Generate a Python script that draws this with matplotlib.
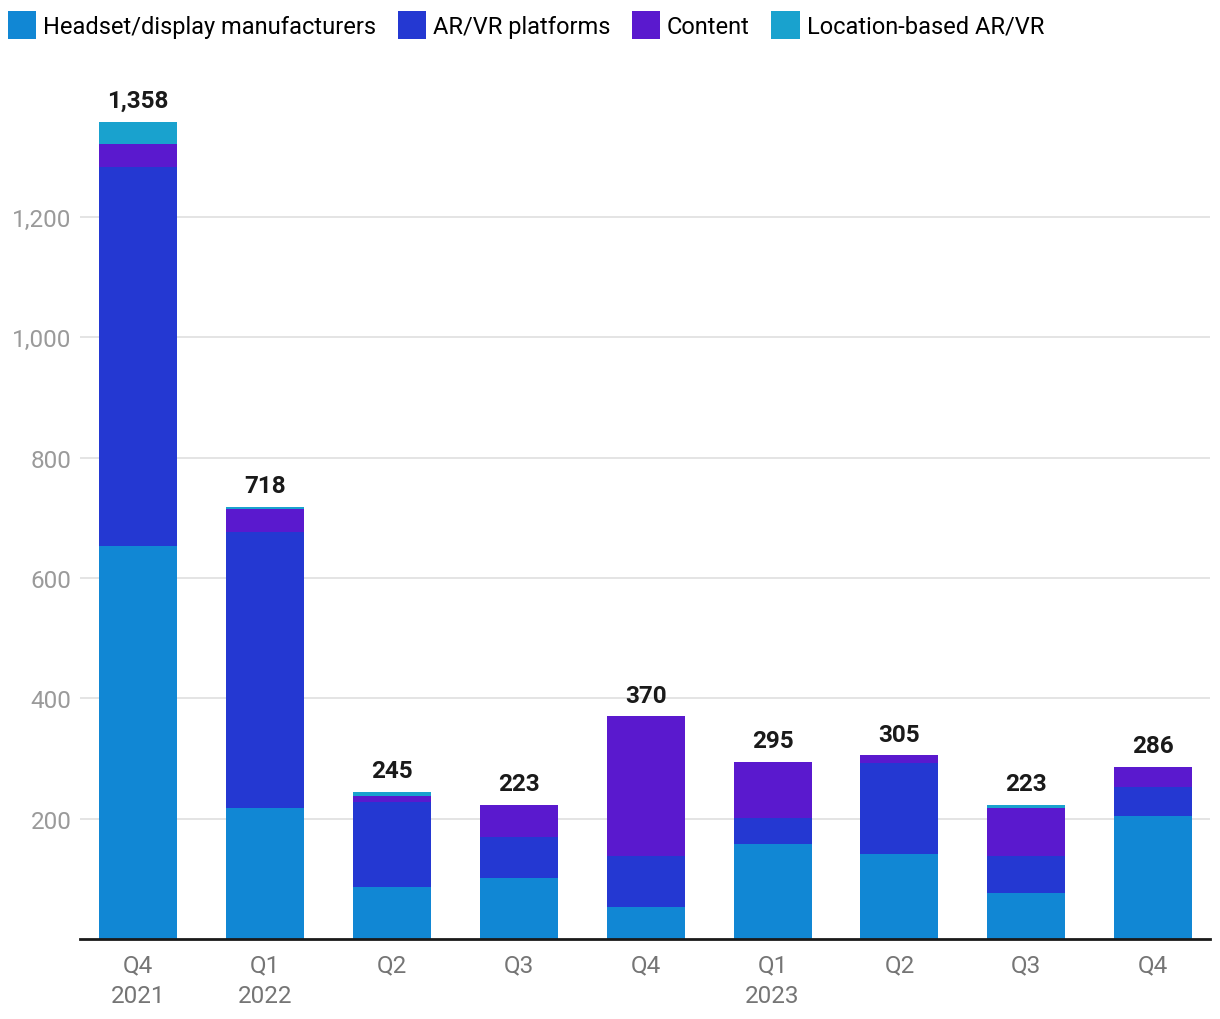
import numpy as np
import matplotlib.pyplot as plt
from matplotlib.patches import Patch

plt.rcParams['font.family'] = ['Roboto', 'DejaVu Sans']

# quarters and funding by segment
quarters = ["Q4\n2021", "Q1\n2022", "Q2", "Q3", "Q4", "Q1\n2023", "Q2", "Q3", "Q4"]
headset = [653, 218, 87, 102, 53, 158, 141, 76, 204]
platforms = [630, 458, 140, 68, 85, 43, 152, 62, 49]
content = [38, 39, 11, 53, 232, 93, 12, 80, 33]
location = [37, 3, 7, 0, 0, 1, 0, 5, 0]
totals = [1358, 718, 245, 223, 370, 295, 305, 223, 286]

series_names = ["Headset/display manufacturers", "AR/VR platforms", "Content", "Location-based AR/VR"]
colors = ["#1187d4", "#2438d2", "#5a19ce", "#19a2ce"]

fig = plt.figure(figsize=(12.2, 10.2), dpi=100)
ax = fig.add_axes([0.0656, 0.0784, 0.9264, 0.826])

x = np.arange(len(quarters))
bottom = np.zeros(len(quarters))
for vals, col in zip([headset, platforms, content, location], colors):
    ax.bar(x, vals, width=0.615, bottom=bottom, color=col, zorder=2)
    bottom += np.array(vals)

for xi, t in zip(x, totals):
    ax.text(xi, t + 16, f"{t:,}", ha="center", va="bottom", fontsize=17.5,
            fontweight="bold", color="#1a1a1a")

ax.set_xlim(-0.457, 8.449)
ax.set_ylim(0, 1400)
ax.set_yticks([200, 400, 600, 800, 1000, 1200])
ax.yaxis.set_major_formatter(plt.FuncFormatter(lambda v, p: f"{int(v):,}"))
ax.set_xticks(x)
ax.set_xticklabels(quarters, linespacing=1.45)
ax.tick_params(axis="y", length=0, labelsize=17.5, labelcolor="#9a9a9a", pad=6)
ax.tick_params(axis="x", length=0, labelsize=17.5, labelcolor="#757575", pad=10)
ax.grid(axis="y", color="#e2e2e2", linewidth=1.3, zorder=0)
for side in ["top", "right", "left"]:
    ax.spines[side].set_visible(False)
ax.spines["bottom"].set_color("#1a1a1a")
ax.spines["bottom"].set_linewidth(2)
ax.spines["bottom"].set_zorder(3)

handles = [Patch(facecolor=c, label=n) for c, n in zip(colors, series_names)]
fig.legend(handles=handles, loc="upper left", bbox_to_anchor=(-0.007, 1.0045), ncol=4,
           frameon=False, fontsize=17, handlelength=1.2, handleheight=1.45,
           handletextpad=0.3, columnspacing=0.9, borderaxespad=0.3)

fig.savefig("out.png", dpi=100)
